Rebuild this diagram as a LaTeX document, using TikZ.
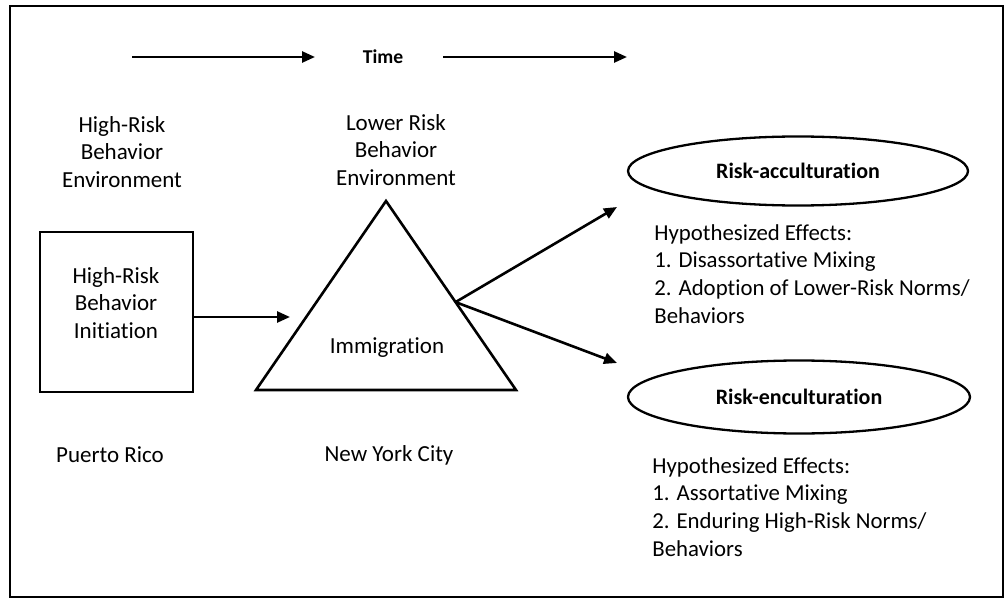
\documentclass[tikz,border=0pt]{standalone}
\usepackage{fontspec}
\setmainfont[Ligatures=NoCommon]{Carlito}
\usetikzlibrary{arrows.meta,shapes.geometric,calc}

\tikzset{
	txt/.style={align=center, inner sep=0pt, font=\fontsize{11.5}{13.8}\selectfont},
	effects/.style={align=left, inner sep=0pt, anchor=north west, font=\fontsize{11.4}{13.8}\selectfont},
	bubble/.style={draw, ellipse, line width=1.15pt, inner sep=0pt, font=\fontsize{11}{13}\selectfont\bfseries},
	arr/.style={line width=1.3pt, -{Triangle[length=6.5pt,width=5.5pt]}}
}

\begin{document}
\begin{tikzpicture}[x=0.5pt, y=-0.5pt]
	\useasboundingbox (0,0) rectangle (1007,599);
	% Frame
	\draw[line width=1.4pt] (10,6) rectangle (1003,597);

	% Time line
	\node[inner sep=0pt, font=\fontsize{9.8}{11}\selectfont\bfseries] (time) at (383,57) {Time};
	\coordinate (t1) at (132,57);
	\coordinate (t1end) at (315,57);
	\coordinate (t2) at (443,57);
	\coordinate (t2end) at (627,57);
	\draw[arr] (t1) -- (t1end);
	\draw[arr] (t2) -- (t2end);

	% Environments
	\node[txt] (highenv) at (122,152) {High-Risk\\Behavior\\Environment};
	\node[txt] (lowenv) at (396,150) {Lower Risk\\Behavior\\Environment};

	% Initiation box
	\node[draw, line width=1.3pt, minimum width=76.5pt, minimum height=80pt, inner sep=0pt] (init) at (116.5,312) {};
	\node[txt] (inittxt) at (116,303) {High-Risk\\Behavior\\Initiation};

	% Immigration triangle
	\coordinate (apex) at (386,201);
	\coordinate (baseL) at (256,390);
	\coordinate (baseR) at (516,390);
	\draw[line width=1.3pt, line join=miter] (apex) -- (baseL) -- (baseR) -- cycle;
	\node[txt] (immig) at (387,348) {Immigration};
	\coordinate (fork) at ($(apex)!0.535!(baseR)$);
	\coordinate (intip) at (290,317);
	\draw[arr] (init.east |- intip) -- (intip);

	% Places
	\node[txt] (pr) at (110,455) {Puerto Rico};
	\node[txt] (nyc) at (389,455) {New York City};

	% Outcomes
	\node[bubble, minimum width=170pt, minimum height=34.5pt] (accult) at (798,171) {Risk-acculturation};
	\node[bubble, minimum width=171pt, minimum height=36.5pt] (encult) at (799,397) {Risk-enculturation};
	\coordinate (up) at (617,207);
	\coordinate (down) at (617,363);
	\draw[arr] (fork) -- (up);
	\draw[arr] (fork) -- (down);

	\node[effects] (eff1) at (654,224) {Hypothesized Effects:\\1. Disassortative Mixing\\2. Adoption of Lower-Risk Norms/\\Behaviors};
	\node[effects] (eff2) at (652,457) {Hypothesized Effects:\\1. Assortative Mixing\\2. Enduring High-Risk Norms/\\Behaviors};
\end{tikzpicture}
\end{document}
